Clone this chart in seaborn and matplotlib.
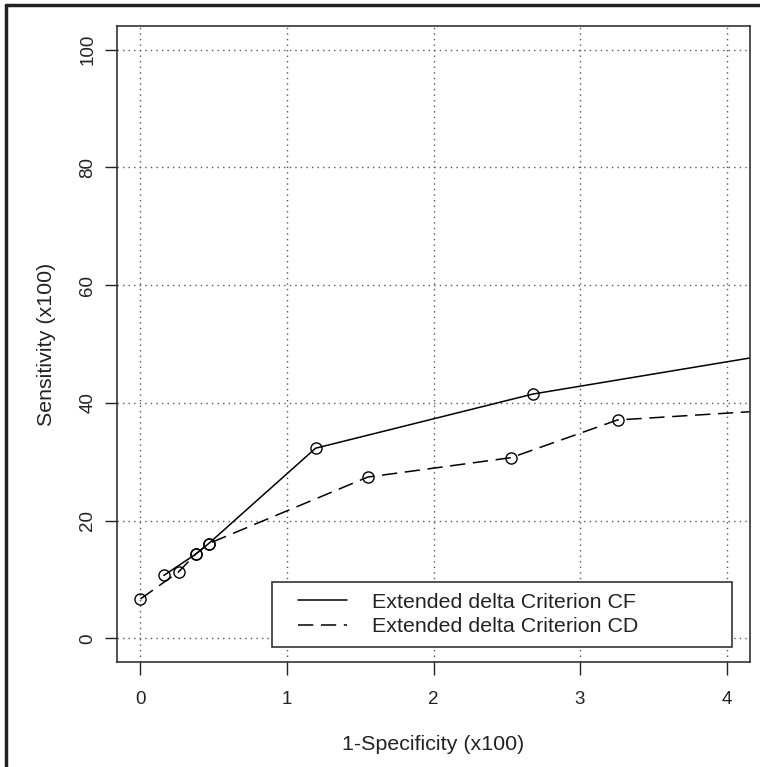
import numpy as np
import pandas as pd
import matplotlib
matplotlib.use("Agg")
import matplotlib.pyplot as plt
import seaborn as sns
from matplotlib.lines import Line2D
from matplotlib.legend_handler import HandlerLine2D

# ---- data ----
cf_x = [0.16, 0.376, 0.465, 1.195, 2.678, 5.0]
cf_y = [10.7, 14.3, 16.1, 32.3, 41.5, 51.1]
cd_x = [0.0, 0.26, 0.376, 0.465, 1.551, 2.53, 3.256, 5.0]
cd_y = [6.7, 11.3, 14.3, 16.1, 27.4, 30.7, 37.1, 39.8]
series_labels = ["Extended delta Criterion CF", "Extended delta Criterion CD"]
x_ticks = [0, 1, 2, 3, 4]
y_ticks = [0, 20, 40, 60, 80, 100]
x_label = "1-Specificity (x100)"
y_label = "Sensitivity (x100)"

sns.set_theme(style="white")
plt.rcParams["font.family"] = ["Liberation Sans", "DejaVu Sans"]
FS_TICK = 13.5
FS_LAB = 15.4
TXT = "#222222"

fig = plt.figure(figsize=(7.6, 7.67), dpi=100)
ax = fig.add_axes([117/760, 1-662/767, (750-117)/760, (662-26)/767])

df_cf = pd.DataFrame({"x": cf_x, "y": cf_y})
df_cd = pd.DataFrame({"x": cd_x, "y": cd_y})

common = dict(color="black", marker="o", markersize=8, markerfacecolor="none",
              markeredgecolor="black", markeredgewidth=1.0, linewidth=1.1,
              sort=False, estimator=None, ax=ax, legend=False)
sns.lineplot(data=df_cf, x="x", y="y", linestyle="-", **common)
sns.lineplot(data=df_cd, x="x", y="y", linestyle=(0, (10, 5)), **common)

ax.set_xlim(-0.16, 4.16)
ax.set_ylim(-4, 104)
ax.set_xticks(x_ticks)
ax.set_yticks(y_ticks)
ax.set_xticklabels([str(v) for v in x_ticks])
ax.set_yticklabels([str(v) for v in y_ticks], rotation=90, va="center")

for v in x_ticks:
    ax.axvline(v, color="#555555", linestyle=(0, (1, 3)), linewidth=1.0, zorder=0)
for v in y_ticks:
    ax.axhline(v, color="#555555", linestyle=(0, (1, 3)), linewidth=1.0, zorder=0)

ax.tick_params(axis="both", direction="out", length=9, width=1.0, color="#222222",
               labelsize=FS_TICK, labelcolor=TXT, bottom=True, left=True)
ax.tick_params(axis="x", pad=12)
ax.tick_params(axis="y", pad=6)
for s in ax.spines.values():
    s.set_color("#333333")
    s.set_linewidth(1.2)

ax.set_xlabel(x_label, fontsize=FS_LAB, color=TXT, labelpad=19)
ax.set_ylabel(y_label, fontsize=FS_LAB, color=TXT, labelpad=17)

handles = [Line2D([], [], color="black", linewidth=1.1, linestyle="-"),
           Line2D([], [], color="black", linewidth=1.1, linestyle=(0, (10, 5)))]
hmap = {h: HandlerLine2D(xpad=0.7) for h in handles}
leg = ax.legend(handles, series_labels, loc="lower left",
                bbox_to_anchor=(0.245, 0.024, 0.727, 0.105), mode="expand",
                borderaxespad=0, fontsize=FS_LAB, frameon=True, fancybox=False,
                edgecolor="#333333", framealpha=1, borderpad=0.5,
                labelspacing=0.25, handlelength=3.0, handletextpad=1.16,
                handler_map=hmap)
leg.get_frame().set_linewidth(1.2)
for t in leg.get_texts():
    t.set_color(TXT)

# outer figure frame (left and top visible in the reference)
fig.add_artist(Line2D([6/760, 6/760], [0, 1-5/767], transform=fig.transFigure,
                      color="#222222", linewidth=2.5))
fig.add_artist(Line2D([6/760, 1], [1-5/767, 1-5/767], transform=fig.transFigure,
                      color="#222222", linewidth=2.5))

fig.savefig("out.png", dpi=100)
